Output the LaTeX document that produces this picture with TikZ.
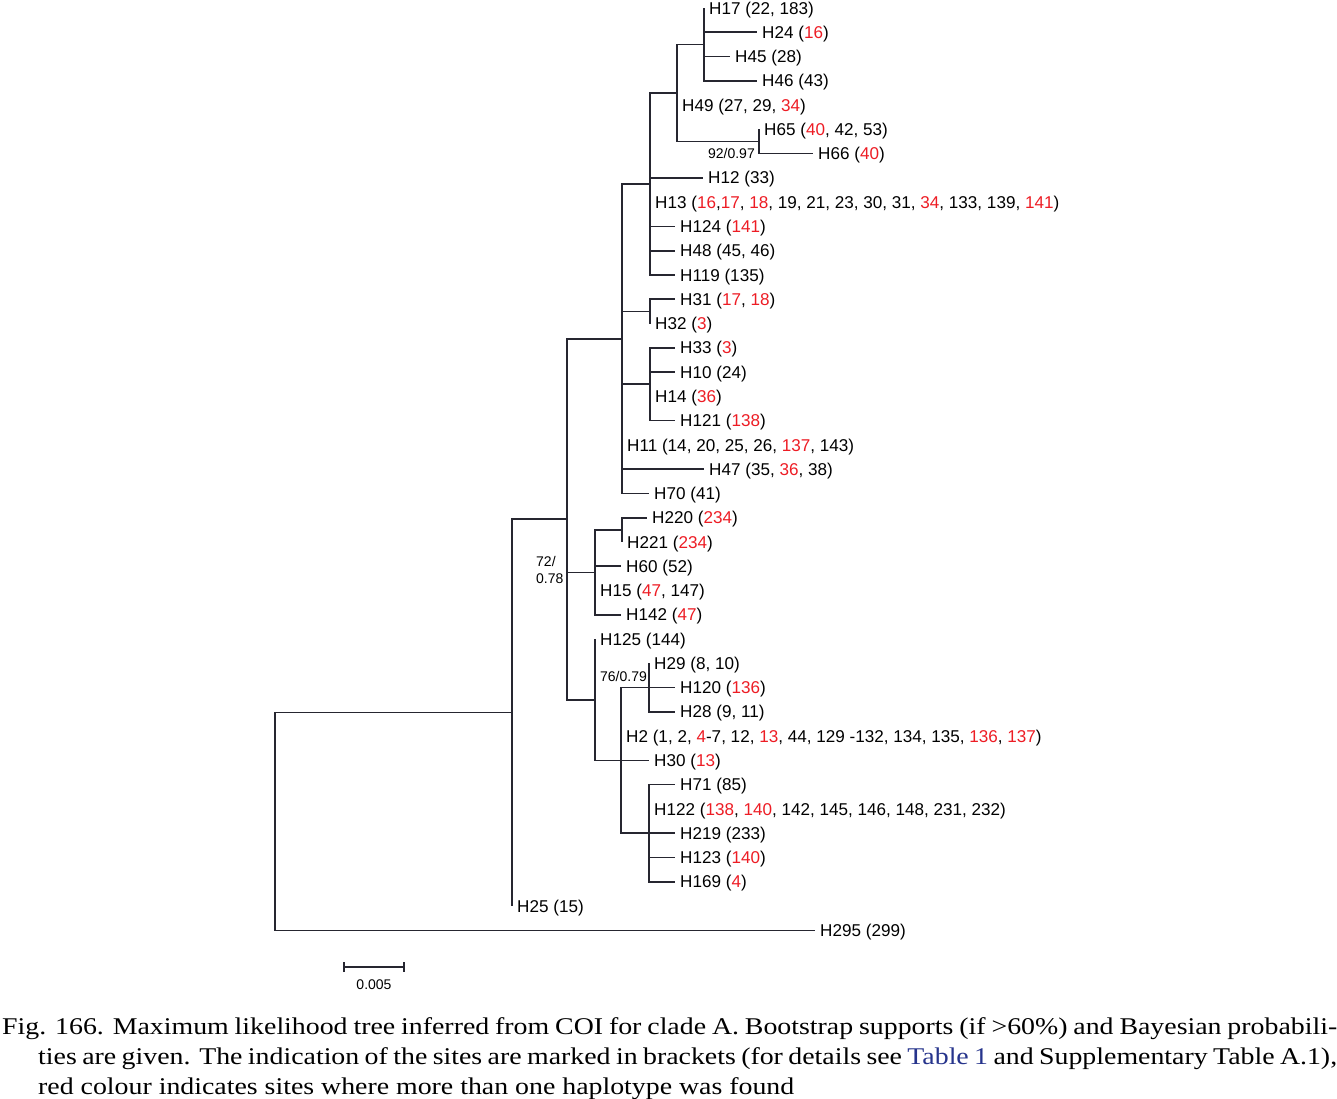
\documentclass[tikz,border=0pt]{standalone}
\usepackage{fontspec}
\setmainfont{Liberation Serif}
\newfontfamily\treefont{Liberation Sans}
\newfontfamily\capfont[FakeStretch=1.16]{Liberation Serif}
\usepackage{tikz}
\usetikzlibrary{arrows.meta}

\definecolor{siteRed}{RGB}{237,28,36}
\definecolor{tableBlue}{RGB}{38,52,140}
\definecolor{branchGrey}{RGB}{38,38,48}
\newcommand{\rd}[1]{\textcolor{siteRed}{#1}}

\begin{document}
\begin{tikzpicture}[x=1pt,y=-1pt,
		edge/.style={draw=branchGrey,line width=1.6pt},
		leaf/.style={anchor=west,inner xsep=5pt,inner ysep=0pt,text height=12.2pt,text depth=0pt,
			font=\treefont\fontsize{17.1}{17}\selectfont},
		support/.style={inner sep=0pt,font=\treefont\fontsize{14}{16.5}\selectfont}]
	\useasboundingbox (0,0) rectangle (1337,1099);

	% inner nodes of the tree
	\coordinate (root) at (275,821.5);
	\coordinate (nA) at (512,712.6);
	\coordinate (nB) at (567,519.2);
	\coordinate (nC) at (622,338.7);
	\coordinate (nF) at (650,184);
	\coordinate (nI) at (677,93);
	\coordinate (nJ) at (704,44.4);
	\coordinate (nK) at (759,141.5);
	\coordinate (nG) at (650,311.4);
	\coordinate (nH) at (650,384.2);
	\coordinate (nD) at (595,572.3);
	\coordinate (nL) at (622,529.8);
	\coordinate (nE) at (595,699.7);
	\coordinate (nM) at (621,760.4);
	\coordinate (nN) at (649,687.6);
	\coordinate (nO) at (649,833.2);

	% haplotypes
	\node[leaf] (h17) at (704,8) {H17 (22, 183)};
	\node[leaf] (h24) at (757,32.3) {H24 (\rd{16})};
	\node[leaf] (h45) at (730,56.5) {H45 (28)};
	\node[leaf] (h46) at (757,80.8) {H46 (43)};
	\node[leaf] (h49) at (677,105.1) {H49 (27, 29, \rd{34})};
	\node[leaf] (h65) at (759,129.4) {H65 (\rd{40}, 42, 53)};
	\node[leaf] (h66) at (813,153.6) {H66 (\rd{40})};
	\node[leaf] (h12) at (703,177.9) {H12 (33)};
	\node[leaf] (h13) at (650,202.2) {H13 (\rd{16},\rd{17}, \rd{18}, 19, 21, 23, 30, 31, \rd{34}, 133, 139, \rd{141})};
	\node[leaf] (h124) at (675,226.4) {H124 (\rd{141})};
	\node[leaf] (h48) at (675,250.7) {H48 (45, 46)};
	\node[leaf] (h119) at (675,275) {H119 (135)};
	\node[leaf] (h31) at (675,299.2) {H31 (\rd{17}, \rd{18})};
	\node[leaf] (h32) at (650,323.5) {H32 (\rd{3})};
	\node[leaf] (h33) at (675,347.8) {H33 (\rd{3})};
	\node[leaf] (h10) at (675,372) {H10 (24)};
	\node[leaf] (h14) at (650,396.3) {H14 (\rd{36})};
	\node[leaf] (h121) at (675,420.6) {H121 (\rd{138})};
	\node[leaf] (h11) at (622,444.9) {H11 (14, 20, 25, 26, \rd{137}, 143)};
	\node[leaf] (h47) at (704,469.1) {H47 (35, \rd{36}, 38)};
	\node[leaf] (h70) at (649,493.4) {H70 (41)};
	\node[leaf] (h220) at (647,517.7) {H220 (\rd{234})};
	\node[leaf] (h221) at (622,541.9) {H221 (\rd{234})};
	\node[leaf] (h60) at (621,566.2) {H60 (52)};
	\node[leaf] (h15) at (595,590.5) {H15 (\rd{47}, 147)};
	\node[leaf] (h142) at (621,614.7) {H142 (\rd{47})};
	\node[leaf] (h125) at (595,639) {H125 (144)};
	\node[leaf] (h29) at (649,663.3) {H29 (8, 10)};
	\node[leaf] (h120) at (675,687.6) {H120 (\rd{136})};
	\node[leaf] (h28) at (675,711.8) {H28 (9, 11)};
	\node[leaf] (h2) at (621,736.1) {H2 (1, 2, \rd{4}-7, 12, \rd{13}, 44, 129 -132, 134, 135, \rd{136}, \rd{137})};
	\node[leaf] (h30) at (649,760.4) {H30 (\rd{13})};
	\node[leaf] (h71) at (675,784.6) {H71 (85)};
	\node[leaf] (h122) at (649,808.9) {H122 (\rd{138}, \rd{140}, 142, 145, 146, 148, 231, 232)};
	\node[leaf] (h219) at (675,833.2) {H219 (233)};
	\node[leaf] (h123) at (675,857.5) {H123 (\rd{140})};
	\node[leaf] (h169) at (675,881.7) {H169 (\rd{4})};
	\node[leaf] (h25) at (512,906) {H25 (15)};
	\node[leaf] (h295) at (815,930.3) {H295 (299)};

	% branches
	\draw[edge] (root) |- (nA);
	\draw[edge] (root) |- (h295.west);
	\draw[edge] (nA) |- (nB);
	\draw[edge] (nA) |- (h25.west);
	\draw[edge] (nB) |- (nC);
	\draw[edge] (nB) |- (nD);
	\draw[edge] (nB) |- (nE);
	\draw[edge] (nC) |- (nF);
	\draw[edge] (nC) |- (nG);
	\draw[edge] (nC) |- (nH);
	\draw[edge] (nC) |- (h11.west);
	\draw[edge] (nC) |- (h47.west);
	\draw[edge] (nC) |- (h70.west);
	\draw[edge] (nF) |- (nI);
	\draw[edge] (nF) |- (h12.west);
	\draw[edge] (nF) |- (h13.west);
	\draw[edge] (nF) |- (h124.west);
	\draw[edge] (nF) |- (h48.west);
	\draw[edge] (nF) |- (h119.west);
	\draw[edge] (nI) |- (nJ);
	\draw[edge] (nI) |- (h49.west);
	\draw[edge] (nI) |- (nK);
	\draw[edge] (nJ) |- (h17.west);
	\draw[edge] (nJ) |- (h24.west);
	\draw[edge] (nJ) |- (h45.west);
	\draw[edge] (nJ) |- (h46.west);
	\draw[edge] (nK) |- (h65.west);
	\draw[edge] (nK) |- (h66.west);
	\draw[edge] (nG) |- (h31.west);
	\draw[edge] (nG) |- (h32.west);
	\draw[edge] (nH) |- (h33.west);
	\draw[edge] (nH) |- (h10.west);
	\draw[edge] (nH) |- (h14.west);
	\draw[edge] (nH) |- (h121.west);
	\draw[edge] (nD) |- (nL);
	\draw[edge] (nD) |- (h60.west);
	\draw[edge] (nD) |- (h15.west);
	\draw[edge] (nD) |- (h142.west);
	\draw[edge] (nL) |- (h220.west);
	\draw[edge] (nL) |- (h221.west);
	\draw[edge] (nE) |- (h125.west);
	\draw[edge] (nE) |- (nM);
	\draw[edge] (nM) |- (nN);
	\draw[edge] (nM) |- (h2.west);
	\draw[edge] (nM) |- (h30.west);
	\draw[edge] (nM) |- (nO);
	\draw[edge] (nN) |- (h29.west);
	\draw[edge] (nN) |- (h120.west);
	\draw[edge] (nN) |- (h28.west);
	\draw[edge] (nO) |- (h71.west);
	\draw[edge] (nO) |- (h122.west);
	\draw[edge] (nO) |- (h219.west);
	\draw[edge] (nO) |- (h123.west);
	\draw[edge] (nO) |- (h169.west);

	% supports
	\node[support,anchor=east] (bsK) at (755,153) {92/0.97};
	\node[support,anchor=west,align=left] (bsD) at (536,570) {72/\\0.78};
	\node[support] (bsN) at (623.5,676) {76/0.79};

	% scale bar
	\coordinate (barL) at (343,967);
	\coordinate (barR) at (405,967);
	\draw[edge,{Bar[width=10pt]}-{Bar[width=10pt]}] (barL) -- (barR);
	\node[support] (barLabel) at (374,985) {0.005};

	% caption
	\node[anchor=north west,inner sep=0pt,align=left,
		font=\capfont\fontsize{24}{30}\selectfont] (caption) at (2,1017) {%
		\makebox[1335pt][s]{Fig. 166. Maximum likelihood tree inferred from COI for clade A. Bootstrap supports (if >60\%) and Bayesian probabili-}\\
		\hspace*{36pt}\makebox[1299pt][s]{ties are given. The indication of the sites are marked in brackets (for details see \textcolor{tableBlue}{Table 1} and Supplementary Table A.1),}\\
		\hspace*{36pt}red colour indicates sites where more than one haplotype was found};
\end{tikzpicture}
\end{document}
